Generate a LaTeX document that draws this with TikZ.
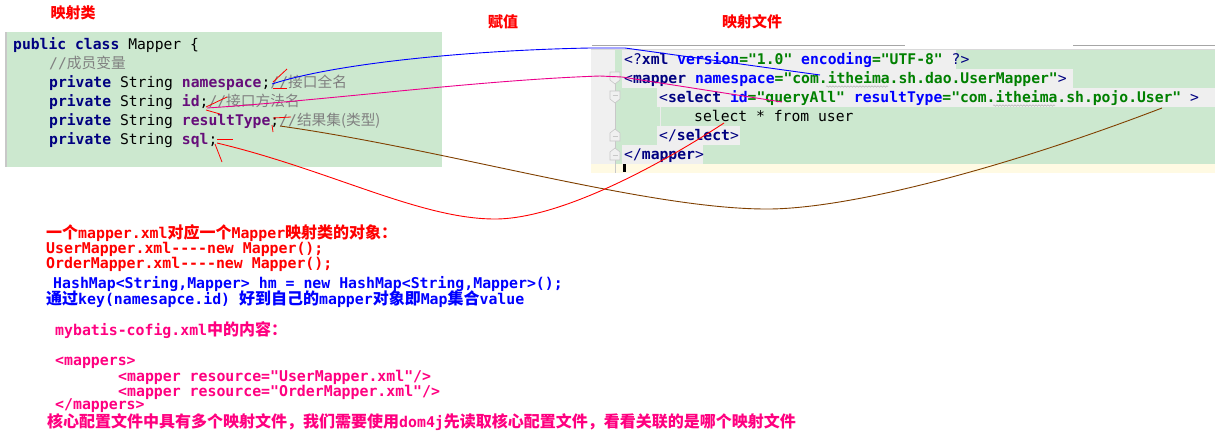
\documentclass[tikz,border=0pt]{standalone}
\usepackage{fontspec}
\setmonofont{DejaVu Sans Mono}
\newfontfamily\cjk{Noto Sans CJK SC}
\usetikzlibrary{decorations.pathmorphing}
\definecolor{kwnavy}{RGB}{0,0,128}
\definecolor{fldpurple}{RGB}{102,14,122}
\definecolor{cmtgray}{RGB}{128,128,128}
\definecolor{attrblue}{RGB}{0,0,255}
\definecolor{valgreen}{RGB}{0,128,0}
\definecolor{codebg}{RGB}{204,232,207}
\definecolor{hlgray}{RGB}{239,239,239}
\definecolor{guttergray}{RGB}{240,240,240}
\definecolor{creamrow}{RGB}{255,250,227}
\definecolor{hotpink}{RGB}{255,0,128}
\definecolor{linkbrown}{RGB}{128,64,0}
\definecolor{foldgray}{RGB}{200,200,200}
\newcommand\cKw[1]{\textcolor{kwnavy}{\bfseries #1}}
\newcommand\cFld[1]{\textcolor{fldpurple}{\bfseries #1}}
\newcommand\cCm[1]{\textcolor{cmtgray}{#1}}
\newcommand\cTg[1]{\textcolor{kwnavy}{#1}}
\newcommand\cTgb[1]{\textcolor{kwnavy}{\bfseries #1}}
\newcommand\cAn[1]{\textcolor{attrblue}{\bfseries #1}}
\newcommand\cAv[1]{\textcolor{valgreen}{\bfseries #1}}
\newcommand\mylat[1]{{\ttfamily\bfseries\fontsize{14.85}{16}\selectfont #1}}
\newcommand\myhan[1]{{\cjk\bfseries\fontsize{16}{17}\selectfont #1}}
\begin{document}
\begin{tikzpicture}[x=1pt,y=-1pt,
  codetxt/.style={anchor=base west,inner sep=0pt,font=\ttfamily\fontsize{14.7}{16}\selectfont},
  btxt/.style={anchor=base west,inner sep=0pt},
  title/.style={inner sep=0pt,text=red,font=\cjk\bfseries\fontsize{15}{16}\selectfont},
  link/.style={line width=0.9pt},
  redstroke/.style={red,line width=0.8pt},
  fold/.style={draw=foldgray,fill=guttergray,line width=0.6pt}]
\useasboundingbox (0,0) rectangle (1215,440);
\fill[white] (0,0) rectangle (1215,440);

% titles
\node[title] (tClass) at (73,13) {映射类};
\node[title] (tAssign) at (503,22) {赋值};
\node[title] (tFile) at (752,22) {映射文件};

% left code block
\fill[codebg] (5,32) rectangle (442,167);
\fill[foldgray] (5,32) rectangle (7,167);
\node[codetxt] (L1) at (13,49) {\cKw{public class} Mapper \{};
\node[codetxt] (L2) at (49,68) {\cCm{//{\cjk 成员变量}}};
\node[codetxt] (L3) at (49,87) {\cKw{private} String \cFld{namespace};\cCm{//{\cjk 接口全名}}};
\node[codetxt] (L4) at (49,106) {\cKw{private} String \cFld{id};\cCm{//{\cjk 接口方法名}}};
\node[codetxt] (L5) at (49,125) {\cKw{private} String \cFld{resultType};\cCm{//{\cjk 结果集(类型)}}};
\node[codetxt] (L6) at (49,144) {\cKw{private} String \cFld{sql};};

% right editor block
\draw[gray!70,line width=0.8pt] (592,45.5) -- (905,45.5);
\draw[gray!70,line width=0.8pt] (1073,45.5) -- (1215,45.5);
\fill[guttergray] (591,49.5) rectangle (615,163.5);
\fill[codebg] (615,49.5) rectangle (1215,163.5);
\fill[creamrow] (591,163.5) rectangle (1215,172.5);
\fill[hlgray] (622,49.5) rectangle (956,68.5);
\fill[hlgray] (622,68.5) rectangle (1073,87.5);
\fill[hlgray] (657,87.5) rectangle (1215,106.5);
\fill[hlgray] (657,125.5) rectangle (740,144.5);
\fill[hlgray] (622,144.5) rectangle (703,163.5);
\draw[gray!30,line width=0.8pt] (591,49.5) -- (1215,49.5);
\draw[white!85!gray,line width=0.8pt] (660,106.5) -- (660,125.5);
\draw[foldgray,line width=0.8pt] (615,78) -- (615,172.5);
\foreach \yy in {78,97}{
  \draw[fold] (610,\yy-6) -- (620,\yy-6) -- (620,\yy+2) -- (615,\yy+6) -- (610,\yy+2) -- cycle;
  \draw[foldgray,line width=0.6pt] (612.5,\yy-1.5) -- (617.5,\yy-1.5);
}
\foreach \yy in {135,154}{
  \draw[fold] (610,\yy+6) -- (620,\yy+6) -- (620,\yy-2) -- (615,\yy-6) -- (610,\yy-2) -- cycle;
  \draw[foldgray,line width=0.6pt] (612.5,\yy+1.5) -- (617.5,\yy+1.5);
}
\fill[black] (623,164) rectangle (625.5,172);
\node[codetxt] (R1) at (624,64) {\cTg{<?}\cTgb{xml} \cAn{version}\cAv{="1.0"} \cAn{encoding}\cAv{="UTF-8"} \cTg{?>}};
\node[codetxt] (R2) at (624,83) {\cTg{<}\cTgb{mapper} \cAn{namespace}\cAv{="com.itheima.sh.dao.UserMapper"}\cTg{>}};
\node[codetxt] (R3) at (659,102) {\cTg{<}\cTgb{select} \cAn{id}\cAv{="queryAll"} \cAn{resultType}\cAv{="com.itheima.sh.pojo.User"} \cTg{>}};
\node[codetxt] (R4) at (694,121) {select * from user};
\node[codetxt] (R5) at (659,140) {\cTg{</}\cTgb{select}\cTg{>}};
\node[codetxt] (R6) at (624,159) {\cTg{</}\cTgb{mapper}\cTg{>}};
\draw[gray!60,line width=0.5pt,decorate,decoration={snake,amplitude=0.7pt,segment length=3pt}] (826,86.5) -- (888,86.5);
\draw[gray!60,line width=0.5pt,decorate,decoration={snake,amplitude=0.7pt,segment length=3pt}] (993,105.5) -- (1055,105.5);

% connector end points
\coordinate (nsA) at (272,84);
\coordinate (idA) at (207,108);
\coordinate (rtA) at (280,126);
\coordinate (sqA) at (217,143);
\coordinate (nsB) at (820,75);
\coordinate (idB) at (782,102);
\coordinate (rtB) at (1162,108);
\coordinate (sqB) at (724,123);

% connectors
\draw[link,blue] (nsA) .. controls (340,62) and (480,50) .. (590,48) -- (625,48) -- (nsB);
\draw[link,magenta] (idA) .. controls (330,100) and (480,80) .. (600,76) -- (622,77) -- (idB);
\draw[link,linkbrown] (rtA) .. controls (450,150) and (650,210) .. (770,209) .. controls (850,208) and (1000,170) .. (rtB);
\draw[link,red] (sqA) .. controls (330,170) and (420,219) .. (495,219) .. controls (560,219) and (660,165) .. (sqB);

% hand-drawn arrow strokes
\draw[redstroke] (273,82) -- (287,69);
\draw[redstroke] (273,88) -- (287,88);
\draw[redstroke] (206,107) -- (227,97);
\draw[redstroke] (206,110) -- (220,114);
\draw[redstroke] (273,118) -- (291,117);
\draw[redstroke] (272,125) -- (273,132);
\draw[redstroke] (217,139) -- (233,139);
\draw[redstroke] (215,144) -- (222,162);

% bottom notes
\node[btxt,text=red] (B1) at (46,238) {\myhan{一个}\mylat{mapper.xml}\myhan{对应一个}\mylat{Mapper}\myhan{映射类的对象：}};
\node[btxt,text=red] (B2) at (46,253) {\mylat{UserMapper.xml----new Mapper();}};
\node[btxt,text=red] (B3) at (46,268) {\mylat{OrderMapper.xml----new Mapper();}};
\node[btxt,text=blue] (B4) at (53,288) {\mylat{HashMap<String,Mapper> hm = new HashMap<String,Mapper>();}};
\node[btxt,text=blue] (B5) at (46,304) {\myhan{通过}\mylat{key(namesapce.id) }\myhan{好到自己的}\mylat{mapper}\myhan{对象即}\mylat{Map}\myhan{集合}\mylat{value}};
\node[btxt,text=hotpink] (B6) at (55,335) {\mylat{mybatis-cofig.xml}\myhan{中的内容：}};
\node[btxt,text=hotpink] (B7) at (55,365) {\mylat{<mappers>}};
\node[btxt,text=hotpink] (B8) at (118,381) {\mylat{<mapper resource="UserMapper.xml"/>}};
\node[btxt,text=hotpink] (B9) at (118,396) {\mylat{<mapper resource="OrderMapper.xml"/>}};
\node[btxt,text=hotpink] (B10) at (55,409) {\mylat{</mappers>}};
\node[btxt,text=hotpink] (B11) at (47,427.5) {\myhan{核心配置文件中具有多个映射文件，我们需要使用}\mylat{dom4j}\myhan{先读取核心配置文件，看看关联的是哪个映射文件}};
\end{tikzpicture}
\end{document}
